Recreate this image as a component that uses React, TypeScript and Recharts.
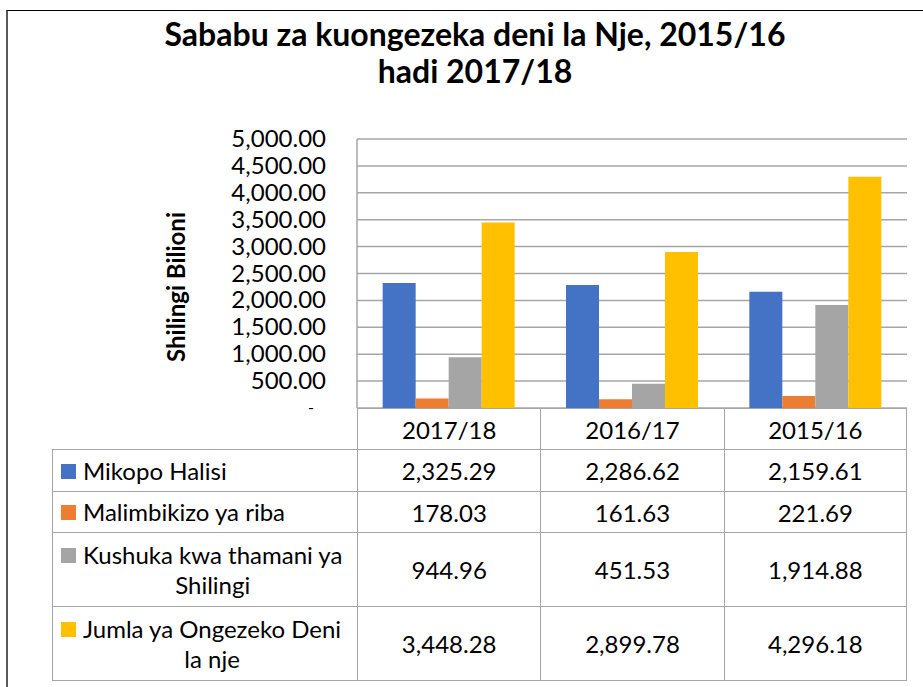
import { BarChart, Bar, XAxis, YAxis, CartesianGrid } from "recharts";

const categories = ["2017/18", "2016/17", "2015/16"];
const seriesNames = [
  "Mikopo Halisi",
  "Malimbikizo ya riba",
  "Kushuka kwa thamani ya\nShilingi",
  "Jumla ya Ongezeko Deni\nla nje",
];
const mikopoHalisi = [2325.29, 2286.62, 2159.61];
const malimbikizoRiba = [178.03, 161.63, 221.69];
const kushukaThamani = [944.96, 451.53, 1914.88];
const jumlaOngezeko = [3448.28, 2899.78, 4296.18];
const yTicks = [0, 500, 1000, 1500, 2000, 2500, 3000, 3500, 4000, 4500, 5000];

const COLORS = ["#4472C4", "#ED7D31", "#A5A5A5", "#FFC000"];
const FONT = "Lato, 'Open Sans', sans-serif";

const seriesValues = [mikopoHalisi, malimbikizoRiba, kushukaThamani, jumlaOngezeko];
const chartData = categories.map((c, i) => ({
  name: c,
  s0: mikopoHalisi[i],
  s1: malimbikizoRiba[i],
  s2: kushukaThamani[i],
  s3: jumlaOngezeko[i],
}));

// plot geometry
const W = 923;
const H = 687;
const PLOT_LEFT = 357;
const PLOT_RIGHT = 907;
const PLOT_TOP = 139;
const PLOT_BOTTOM = 408;
const colW = (PLOT_RIGHT - PLOT_LEFT) / 3;
const TABLE_LEFT = 52;
const rowHeights = [42, 41, 74, 75];
const HEADER_H = 41;
const BORDER = "1.5px solid #A6A6A6";
const TEXT_SIZE = 24;

const fmt = (v: number) =>
  v.toLocaleString("en-US", { minimumFractionDigits: 2, maximumFractionDigits: 2 });

function YTick(props: any) {
  const { x, y, payload } = props;
  if (payload.value === 0) {
    // accounting-style zero
    return (
      <text x={x - 38} y={y} dy={5} textAnchor="middle" fontSize={16} fontFamily={FONT} fill="#000">
        -
      </text>
    );
  }
  return (
    <text x={x - 23} y={y} dy={8} textAnchor="end" fontSize={TEXT_SIZE} fontFamily={FONT} fill="#000">
      {fmt(payload.value)}
    </text>
  );
}

function YLabel() {
  const cy = 287;
  const cx = 175;
  return (
    <text
      x={cx}
      y={cy}
      transform={`rotate(-90, ${cx}, ${cy})`}
      textAnchor="middle"
      dominantBaseline="central"
      fontSize={24}
      fontWeight="bold"
      fontFamily={FONT}
      fill="#000"
    >
      Shilingi Bilioni
    </text>
  );
}

export default function App() {
  let rowTop = PLOT_BOTTOM + HEADER_H;
  return (
    <div style={{ position: "absolute", left: 0, top: 0, width: W, height: H, background: "#fff", fontFamily: FONT, overflow: "hidden" }}>
      {/* outer frame, runs off the right and bottom edges */}
      <div style={{ position: "absolute", left: 6, top: 10, width: 1000, height: 1000, borderLeft: "2px solid #595959", borderTop: "1px solid #000" }} />
      <div
        style={{
          position: "absolute",
          left: 0,
          top: 15,
          width: 950,
          textAlign: "center",
          fontWeight: "bold",
          fontSize: 32,
          lineHeight: "37px",
          color: "#000",
        }}
      >
        Sababu za kuongezeka deni la Nje, 2015/16
        <br />
        hadi 2017/18
      </div>
      <div style={{ position: "absolute", left: 0, top: 0 }}>
        <BarChart
          width={W}
          height={H}
          data={chartData}
          margin={{ top: PLOT_TOP, right: W - PLOT_RIGHT, bottom: H - PLOT_BOTTOM, left: 150 }}
          barCategoryGap="14%"
          barGap={0}
        >
          <CartesianGrid vertical={false} stroke="#A6A6A6" strokeWidth={1.5} />
          <XAxis dataKey="name" hide />
          <YAxis
            domain={[0, 5000]}
            ticks={yTicks}
            width={PLOT_LEFT - 150}
            tick={<YTick />}
            tickLine={false}
            axisLine={{ stroke: "#A6A6A6", strokeWidth: 1.5 }}
            label={<YLabel />}
          />
          {seriesNames.map((n, i) => (
            <Bar key={n} dataKey={`s${i}`} name={n} fill={COLORS[i]} isAnimationActive={false} />
          ))}
        </BarChart>
      </div>
      {/* data table header */}
      {categories.map((c, j) => (
        <div
          key={c}
          style={{
            position: "absolute",
            left: PLOT_LEFT + j * colW,
            top: PLOT_BOTTOM,
            width: colW,
            height: HEADER_H,
            boxSizing: "border-box",
            borderLeft: BORDER,
            borderTop: BORDER,
            borderRight: j === 2 ? BORDER : "none",
            display: "flex",
            alignItems: "center",
            justifyContent: "center",
            fontSize: TEXT_SIZE,
          }}
        >
          {c}
        </div>
      ))}
      {seriesNames.map((n, i) => {
        const top = rowTop;
        const h = rowHeights[i];
        rowTop += h;
        const lines = n.split("\n");
        return (
          <div key={n}>
            <div
              style={{
                position: "absolute",
                left: TABLE_LEFT,
                top,
                width: PLOT_LEFT - TABLE_LEFT,
                height: h,
                boxSizing: "border-box",
                borderLeft: BORDER,
                borderTop: BORDER,
                borderBottom: i === 3 ? BORDER : "none",
                display: "flex",
                alignItems: "center",
              }}
            >
              <div style={{ position: "relative", marginLeft: 8 }}>
                <div
                  style={{
                    position: "absolute",
                    left: 0,
                    top: 8,
                    width: 15,
                    height: 15,
                    background: COLORS[i],
                  }}
                />
                <div style={{ marginLeft: 22, fontSize: TEXT_SIZE, lineHeight: "30px" }}>
                  <div style={{ whiteSpace: "nowrap" }}>{lines[0]}</div>
                  {lines.length > 1 && (
                    <div style={{ textAlign: "center", whiteSpace: "nowrap" }}>{lines[1]}</div>
                  )}
                </div>
              </div>
            </div>
            {categories.map((c, j) => (
              <div
                key={c}
                style={{
                  position: "absolute",
                  left: PLOT_LEFT + j * colW,
                  top,
                  width: colW,
                  height: h,
                  boxSizing: "border-box",
                  borderLeft: BORDER,
                  borderTop: BORDER,
                  borderRight: j === 2 ? BORDER : "none",
                  borderBottom: i === 3 ? BORDER : "none",
                  display: "flex",
                  alignItems: "center",
                  justifyContent: "center",
                  fontSize: TEXT_SIZE,
                }}
              >
                {fmt(seriesValues[i][j])}
              </div>
            ))}
          </div>
        );
      })}
    </div>
  );
}
